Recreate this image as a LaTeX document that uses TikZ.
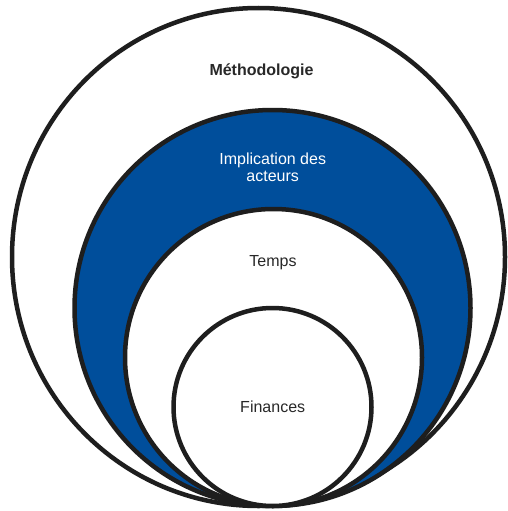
\documentclass[tikz,border=0pt]{standalone}
\usepackage{fontspec}
\setmainfont{Liberation Sans}
\usetikzlibrary{shapes.geometric}
\definecolor{ringblue}{RGB}{0,78,155}
\definecolor{ringline}{RGB}{30,30,30}
\definecolor{txtgray}{RGB}{40,40,40}
\begin{document}
\begin{tikzpicture}[x=1pt,y=-1pt,
  ring/.style={draw=ringline,line width=4.5pt,inner sep=0pt,outer sep=0pt},
  lbl/.style={font=\fontsize{16}{16.5}\selectfont,text=txtgray,align=center,inner sep=0pt}]
\useasboundingbox (0,0) rectangle (508,511);
\node[ring,ellipse,fill=white,minimum width=493pt,minimum height=498pt] (outer) at (258.5,257) {};
\node[ring,circle,fill=ringblue,minimum size=396pt] (blue) at (272.5,308) {};
\node[ring,circle,fill=white,minimum size=297pt] (temps) at (273.5,357.5) {};
\node[ring,circle,fill=white,minimum size=198pt] (fin) at (272.5,407) {};
\node[lbl,font=\fontsize{16}{16.5}\selectfont\bfseries] (tm) at (261.5,71) {Méthodologie};
\node[lbl,text=white] (ti) at (272.7,167.5) {Implication des\\acteurs};
\node[lbl] (tt) at (273,263) {Temps};
\node[lbl] (tf) at (272.7,406.7) {Finances};
\end{tikzpicture}
\end{document}
